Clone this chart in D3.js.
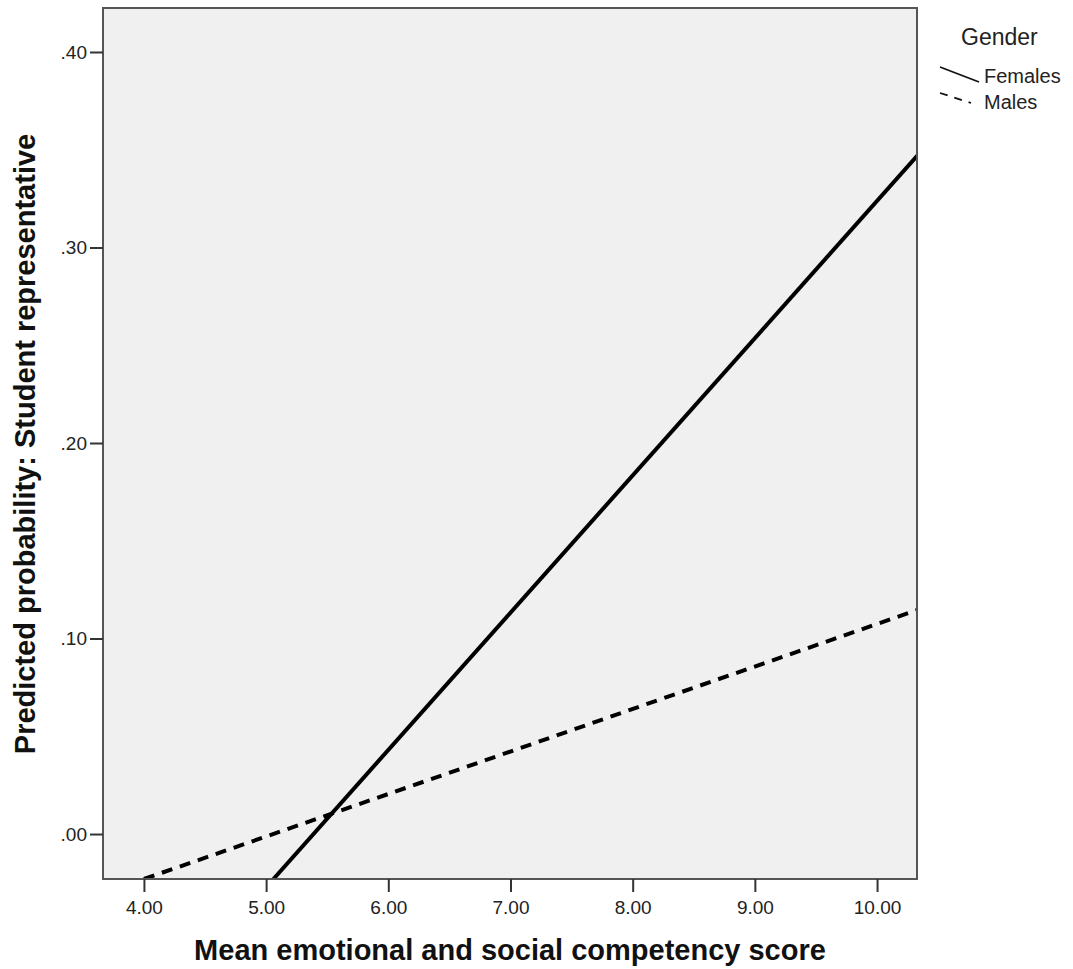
<!DOCTYPE html>
<html>
<head>
<meta charset="utf-8">
<script src="https://cdn.jsdelivr.net/npm/d3@7"></script>
<style>
  body { margin: 0; background: #fff; }
  svg { display: block; }
</style>
</head>
<body>
<div id="chart"></div>
<script>
// values
const xTicks = [4, 5, 6, 7, 8, 9, 10];
const yTicks = [0, 0.1, 0.2, 0.3, 0.4];
const femaleLine = [[5.06, -0.023], [10.33, 0.347]];
const maleLine = [[4.0, -0.023], [10.33, 0.1146]];
const genders = ["Females", "Males"];

const width = 1073, height = 969;
const plot = { left: 103, top: 8, right: 917, bottom: 879 };
const font = "Arial, 'Liberation Sans', sans-serif";

const svg = d3.select("#chart").append("svg")
    .attr("width", width)
    .attr("height", height);

const x = d3.scaleLinear().domain([3.665, 10.327]).range([plot.left, plot.right]);
const y = d3.scaleLinear().domain([-0.023, 0.4225]).range([plot.bottom, plot.top]);

svg.append("rect")
    .attr("x", plot.left)
    .attr("y", plot.top)
    .attr("width", plot.right - plot.left)
    .attr("height", plot.bottom - plot.top)
    .attr("fill", "#f0f0f0");

svg.append("clipPath")
    .attr("id", "clip")
    .append("rect")
    .attr("x", plot.left)
    .attr("y", plot.top)
    .attr("width", plot.right - plot.left)
    .attr("height", plot.bottom - plot.top);

const line = d3.line().x(d => x(d[0])).y(d => y(d[1]));

const lines = svg.append("g").attr("clip-path", "url(#clip)");
lines.append("path")
    .attr("d", line(maleLine))
    .attr("fill", "none")
    .attr("stroke", "#000")
    .attr("stroke-width", 4)
    .attr("stroke-dasharray", "11,8");
lines.append("path")
    .attr("d", line(femaleLine))
    .attr("fill", "none")
    .attr("stroke", "#000")
    .attr("stroke-width", 4);

// frame
svg.append("rect")
    .attr("x", plot.left)
    .attr("y", plot.top)
    .attr("width", plot.right - plot.left)
    .attr("height", plot.bottom - plot.top)
    .attr("fill", "none")
    .attr("stroke", "#555")
    .attr("stroke-width", 2);

const xAxis = svg.append("g")
    .attr("transform", `translate(0,${plot.bottom})`)
    .call(d3.axisBottom(x).tickValues(xTicks).tickFormat(d3.format(".2f")).tickSize(13).tickPadding(9));
const yAxis = svg.append("g")
    .attr("transform", `translate(${plot.left},0)`)
    .call(d3.axisLeft(y).tickValues(yTicks).tickFormat(d => d3.format(".2f")(d).replace(/^0/, "")).tickSize(13).tickPadding(3));

[xAxis, yAxis].forEach(g => {
    g.attr("font-family", font).attr("font-size", 19);
    g.select(".domain").remove();
    g.selectAll(".tick line").attr("stroke", "#333").attr("stroke-width", 2);
    g.selectAll(".tick text").attr("fill", "#222");
});

svg.append("text")
    .attr("x", 510)
    .attr("y", 960)
    .attr("text-anchor", "middle")
    .attr("font-family", font)
    .attr("font-weight", "bold")
    .attr("font-size", 29)
    .attr("fill", "#111")
    .text("Mean emotional and social competency score");

svg.append("text")
    .attr("transform", `translate(35,444) rotate(-90)`)
    .attr("text-anchor", "middle")
    .attr("font-family", font)
    .attr("font-weight", "bold")
    .attr("font-size", 29)
    .attr("fill", "#111")
    .text("Predicted probability: Student representative");

// legend
const legend = svg.append("g").attr("font-family", font);
legend.append("text")
    .attr("x", 961).attr("y", 45)
    .attr("font-size", 23)
    .attr("fill", "#222")
    .text("Gender");

const items = legend.selectAll("g.item")
    .data(genders)
    .join("g")
    .attr("class", "item")
    .attr("transform", (d, i) => `translate(940,${67 + i * 26})`);
items.append("line")
    .attr("x1", 0).attr("y1", 0)
    .attr("x2", (d, i) => i === 0 ? 39 : 31)
    .attr("y2", (d, i) => i === 0 ? 15 : 10)
    .attr("stroke", "#111")
    .attr("stroke-width", 1.8)
    .attr("stroke-dasharray", (d, i) => i === 0 ? null : "8,7");
items.append("text")
    .attr("x", 44).attr("y", 16)
    .attr("font-size", 20)
    .attr("fill", "#222")
    .text(d => d);
</script>
</body>
</html>
